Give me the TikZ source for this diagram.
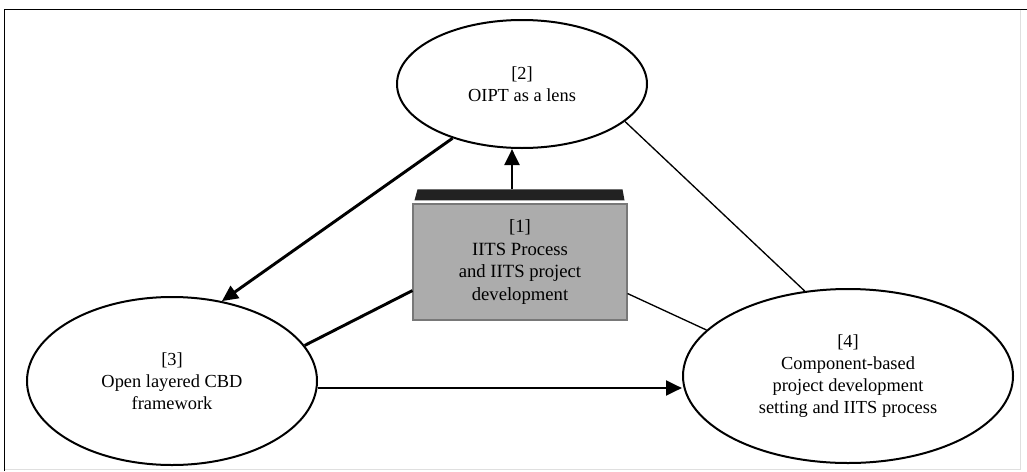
\documentclass[tikz,border=0pt]{standalone}
\usepackage{fontspec}
\setmainfont{Liberation Serif}
\usetikzlibrary{shapes.geometric,arrows.meta,calc}

\definecolor{boxgray}{RGB}{172,172,172}
\definecolor{boxedge}{RGB}{120,120,120}
\definecolor{topface}{RGB}{34,34,34}

\tikzset{
  topic/.style={ellipse, draw=black, line width=1.5pt, fill=white, inner sep=0pt,
    align=center, font=\fontsize{13.8}{16.5}\selectfont},
  corebox/.style={rectangle, draw=boxedge, line width=0.8pt, fill=boxgray, inner sep=0pt,
    align=center, font=\fontsize{14}{17}\selectfont},
  strong/.style={line width=2.2pt},
  weak/.style={line width=1pt},
  flow/.style={strong, -{Triangle[length=12pt,width=11pt]}},
}

\begin{document}
\begin{tikzpicture}[x=0.75pt, y=-0.75pt]
  \useasboundingbox (0,0) rectangle (1027,471);

  % outer frame
  \draw[line width=1.2pt] (4.5,471) -- (4.5,9.5) -- (1027,9.5);
  \draw[gray!25, line width=0.6pt] (1020,9.5) -- (1020,469) -- (4.5,469);

  % topic ellipses
  \node[topic, minimum width=187.5pt, minimum height=96pt] (e2) at (522,84)
    {[2]\\OIPT as a lens};
  \node[topic, minimum width=217.5pt, minimum height=126pt] (e3) at (172,381)
    {[3]\\Open layered CBD\\framework};
  \node[topic, minimum width=247.5pt, minimum height=130.5pt] (e4) at (848,376)
    {[4]\\Component-based\\project development\\setting and IITS process};

  % central box with its dark top face
  \node[corebox, minimum width=160.5pt, minimum height=87pt] (box) at (520,262)
    {[1]\\IITS Process\\and IITS project\\development};
  \fill[topface] ($(box.north west)+(5,-14)$) -- ($(box.north east)+(-5,-14)$)
    -- ($(box.north east)+(-3,-3)$) -- ($(box.north west)+(2,-3)$) -- cycle;

  % connectors
  \coordinate (b1) at ($(box.north)+(-8,-14)$);
  \draw[flow] (b1) -- (e2.south -| b1);
  \draw[flow] (e2.218.7) -- (e3.58.9);
  \draw[weak] (e2.-20.4) -- (e4.117.9);
  \draw[strong] ($(box.south west)+(0,-30)$) -- (e3.15.3);
  \draw[weak] ($(box.south east)+(0,-27)$) -- (e4.162.4);
  \coordinate (c3) at ($(e3.east)+(0,7)$);
  \draw[flow] (c3) -- (e4.west |- c3);
\end{tikzpicture}
\end{document}
